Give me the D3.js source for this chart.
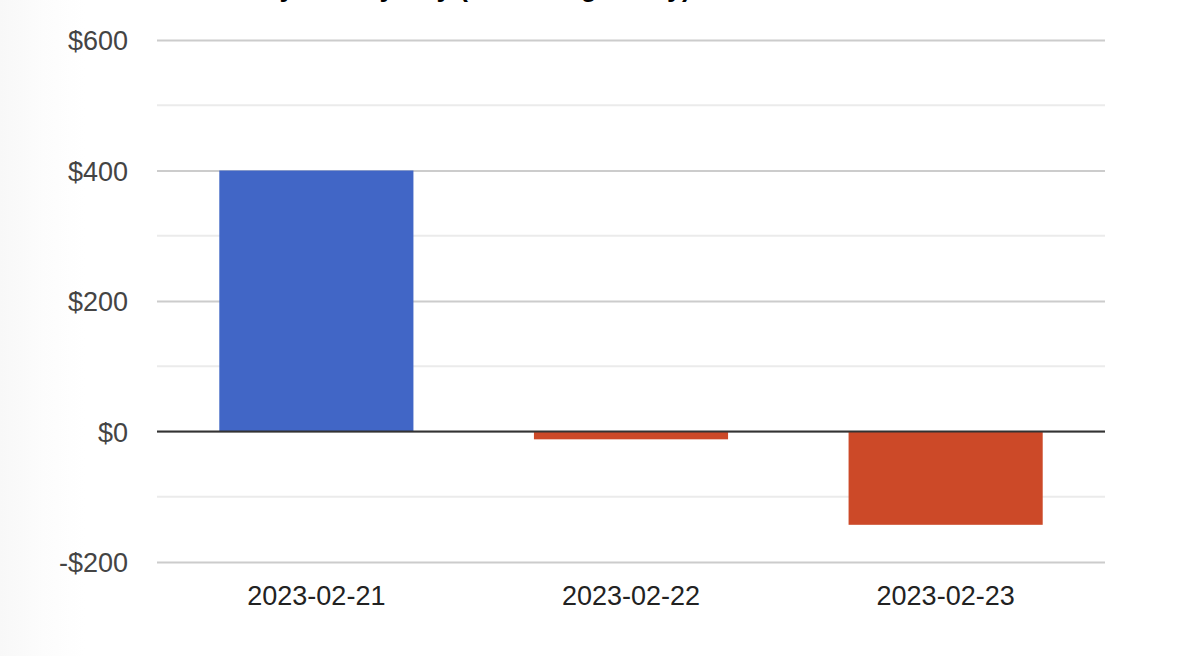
<!DOCTYPE html>
<html>
<head>
<meta charset="utf-8">
<script src="https://cdn.jsdelivr.net/npm/d3@7"></script>
<style>
    html, body { margin: 0; padding: 0; background: #ffffff; }
    svg { display: block; }
    .ytick text { font-family: Arial, "Liberation Sans", sans-serif; font-size: 27px; fill: #444444; }
    .xtick text { font-family: Arial, "Liberation Sans", sans-serif; font-size: 27px; fill: #222222; }
</style>
</head>
<body>
<svg id="chart" width="1182" height="656"></svg>
<script>
// Daily P&L values
const dates = ["2023-02-21", "2023-02-22", "2023-02-23"];
const pnl = [400, -12, -143];
const yTicks = [-200, 0, 200, 400, 600];
const yMinorTicks = [-100, 100, 300, 500];
const titleText = "Daily P&L by Day (Excluding Today)";

const width = 1182, height = 656;
const margin = {top: 40, right: 77, bottom: 94, left: 157};

const svg = d3.select("#chart");

// faint shading on the left edge
const defs = svg.append("defs");
const grad = defs.append("linearGradient").attr("id", "edge").attr("x1", 0).attr("x2", 1);
grad.append("stop").attr("offset", "0%").attr("stop-color", "#f8f8f8");
grad.append("stop").attr("offset", "50%").attr("stop-color", "#fcfcfc");
grad.append("stop").attr("offset", "100%").attr("stop-color", "#ffffff");
svg.append("rect").attr("x", 0).attr("y", 0).attr("width", 85).attr("height", height).attr("fill", "url(#edge)");

// title, mostly scrolled off the top
svg.append("text")
    .attr("x", 230)
    .attr("y", -4)
    .style("font-family", "Arial, 'Liberation Sans', sans-serif")
    .style("font-size", "27px")
    .style("font-weight", "bold")
    .style("fill", "#000")
    .text(titleText);

const x = d3.scaleBand()
    .domain(dates)
    .range([margin.left, width - margin.right])
    .paddingInner(0.383)
    .paddingOuter(0.198);

const y = d3.scaleLinear()
    .domain([-200, 600])
    .range([height - margin.bottom, margin.top]);

// minor gridlines
svg.append("g").selectAll("line")
    .data(yMinorTicks)
    .join("line")
    .attr("x1", margin.left).attr("x2", width - margin.right)
    .attr("y1", d => y(d)).attr("y2", d => y(d))
    .attr("stroke", "#ebebeb").attr("stroke-width", 2);

// major gridlines + labels
const yAxis = d3.axisLeft(y)
    .tickValues(yTicks)
    .tickSize(-(width - margin.left - margin.right))
    .tickPadding(29)
    .tickFormat(d => (d < 0 ? "-$" : "$") + Math.abs(d));

svg.append("g")
    .attr("class", "ytick")
    .attr("transform", `translate(${margin.left},0)`)
    .call(yAxis)
    .call(g => g.select(".domain").remove())
    .call(g => g.selectAll("line").attr("stroke", "#cccccc").attr("stroke-width", 2))
    .call(g => g.selectAll("text").attr("dy", "0.36em"));

// bars
svg.append("g").selectAll("rect")
    .data(dates.map((d, i) => ({date: d, value: pnl[i]})))
    .join("rect")
    .attr("x", d => x(d.date))
    .attr("width", x.bandwidth())
    .attr("y", d => y(Math.max(0, d.value)))
    .attr("height", d => Math.abs(y(d.value) - y(0)))
    .attr("fill", d => d.value >= 0 ? "#4166c6" : "#cc4928");

// zero baseline
svg.append("line")
    .attr("x1", margin.left).attr("x2", width - margin.right)
    .attr("y1", y(0)).attr("y2", y(0))
    .attr("stroke", "#333333").attr("stroke-width", 2);

// x labels
const xAxis = d3.axisBottom(x).tickSize(0).tickPadding(24);
svg.append("g")
    .attr("class", "xtick")
    .attr("transform", `translate(0,${height - margin.bottom})`)
    .call(xAxis)
    .call(g => g.select(".domain").remove());
</script>
</body>
</html>
